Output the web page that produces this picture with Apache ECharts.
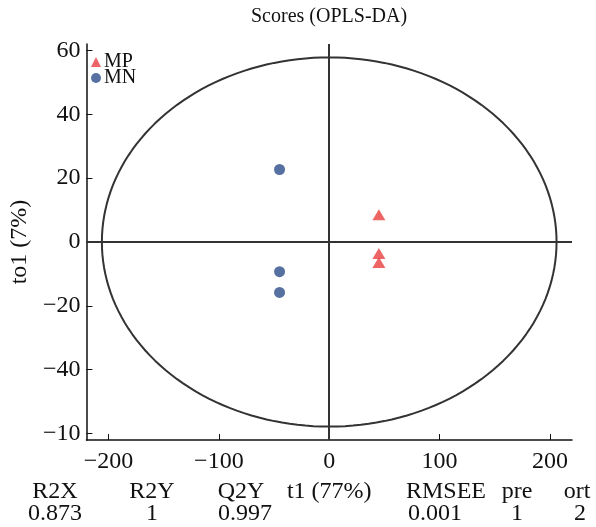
<!DOCTYPE html>
<html>
<head>
<meta charset="utf-8">
<script src="https://cdn.jsdelivr.net/npm/echarts@6/dist/echarts.min.js"></script>
<style>html,body{margin:0;padding:0;background:#fff}#c{width:596px;height:527px}</style>
</head>
<body>
<div id="c"></div>
<script>
// ---- data ----
var titleText = 'Scores (OPLS-DA)';
var seriesNames = ['MP', 'MN'];
var mpPoints = [[45, 8.5], [45, -3.6], [45, -6.4]];
var mnPoints = [[-45, 22.7], [-45, -9.3], [-45, -15.8]];
var xTicks = [-200, -100, 0, 100, 200];
var yTicks = [-60, -40, -20, 0, 20, 40, 60];
var yTickLabels = ['\u221210', '\u221240', '\u221220', '0', '20', '40', '60'];
var xName = 't1 (77%)';
var yName = 'to1 (7%)';
var statLabels = ['R2X', 'R2Y', 'Q2Y', 'RMSEE', 'pre', 'ort'];
var statValues = ['0.873', '1', '0.997', '0.001', '1', '2'];
// Hotelling T2 ellipse semi-axes
var ellipseRadiusX = 206;
var ellipseRadiusY = 57.8;

var ellipsePts = [];
for (var i = 0; i <= 180; i++) {
  var t = i / 180 * 2 * Math.PI;
  ellipsePts.push([ellipseRadiusX * Math.cos(t), ellipseRadiusY * Math.sin(t)]);
}

function minusFmt(v) { return v < 0 ? '\u2212' + Math.abs(v) : String(v); }

var FONT = '"Liberation Serif", "Times New Roman", Times, serif';
var statX = [55, 152, 241, 446, 517, 577];
var statValX = [55, 152, 245, 435, 517, 580];
var graphics = [];
statLabels.forEach(function (s, i) {
  graphics.push({type: 'text', x: statX[i], y: 480, style: {text: s, fontFamily: FONT, fontSize: 24, fill: '#111', textAlign: 'center'}});
});
statValues.forEach(function (s, i) {
  graphics.push({type: 'text', x: statValX[i], y: 502, style: {text: s, fontFamily: FONT, fontSize: 24, fill: '#111', textAlign: 'center'}});
});

var chart = echarts.init(document.getElementById('c'));
chart.setOption({
  animation: false,
  backgroundColor: '#fff',
  textStyle: {fontFamily: FONT},
  title: {text: titleText, left: 246, top: 2, textStyle: {fontFamily: FONT, fontSize: 20, fontWeight: 'normal', color: '#111'}},
  legend: {
    left: 86, top: 47, orient: 'vertical', itemGap: -4, itemWidth: 10, itemHeight: 10,
    textStyle: {fontFamily: FONT, fontSize: 20, color: '#111', padding: [0, 0, 0, -2]},
    data: [{name: 'MP', icon: 'triangle'}, {name: 'MN', icon: 'circle'}]
  },
  grid: {left: 82, right: 24, top: 44, bottom: 87},
  xAxis: {
    type: 'value', min: -220, max: 220,
    name: xName, nameLocation: 'middle', nameGap: 40,
    nameTextStyle: {fontFamily: FONT, fontSize: 24, color: '#111'},
    axisLine: {onZero: false, lineStyle: {color: '#111', width: 1.5}},
    axisTick: {inside: true, length: 6, lineStyle: {color: '#111'}, customValues: xTicks},
    axisLabel: {fontFamily: FONT, fontSize: 24, color: '#111', margin: 10, customValues: xTicks, formatter: minusFmt},
    splitLine: {show: false}
  },
  yAxis: {
    type: 'value', min: -62, max: 62,
    name: yName, nameLocation: 'middle', nameGap: 48,
    nameTextStyle: {fontFamily: FONT, fontSize: 24, color: '#111'},
    axisLine: {onZero: false, lineStyle: {color: '#111', width: 1.5}},
    axisTick: {inside: true, length: 6, lineStyle: {color: '#111'}, customValues: yTicks},
    axisLabel: {fontFamily: FONT, fontSize: 24, color: '#111', margin: 6, customValues: yTicks,
      formatter: function (v) { var k = yTicks.indexOf(v); return k >= 0 ? yTickLabels[k] : ''; }},
    splitLine: {show: false}
  },
  graphic: graphics,
  series: [
    {
      type: 'line', name: 'ellipse', data: ellipsePts, showSymbol: false, symbol: 'none', smooth: false,
      lineStyle: {color: '#333', width: 2}, silent: true, z: 1,
      markLine: {
        silent: true, symbol: 'none', label: {show: false},
        lineStyle: {color: '#333', width: 2, type: 'solid'},
        data: [{xAxis: 0}, {yAxis: 0}]
      }
    },
    {type: 'scatter', name: 'MP', data: mpPoints, symbol: 'triangle', symbolSize: [13, 11], itemStyle: {color: '#E8403F'}, z: 3},
    {type: 'scatter', name: 'MN', data: mnPoints, symbol: 'circle', symbolSize: 11, itemStyle: {color: '#2C4D8A'}, z: 3}
  ]
});
</script>
</body>
</html>
